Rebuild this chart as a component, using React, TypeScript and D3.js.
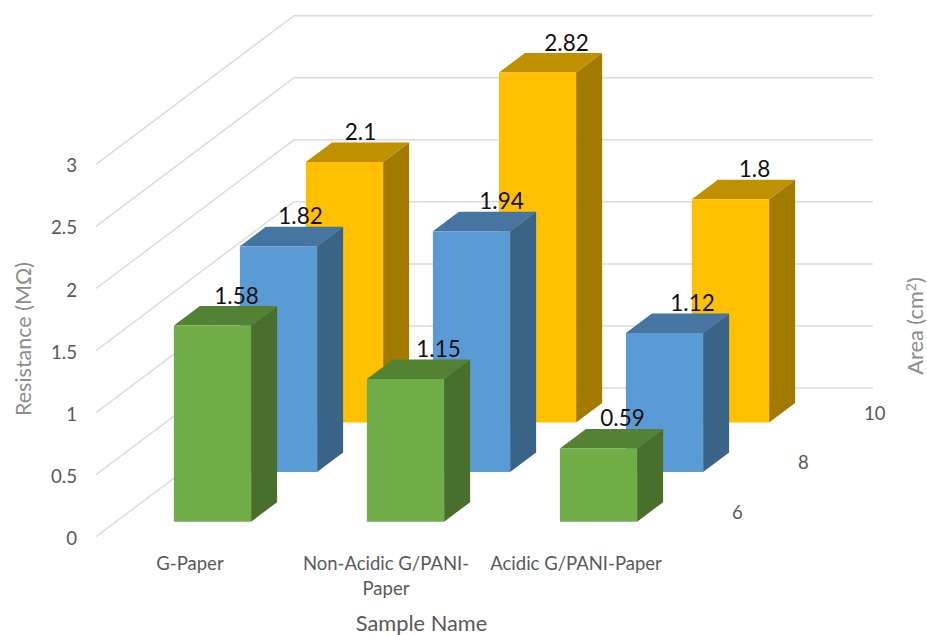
import React from "react";
import * as d3 from "d3";

// Sample names and the area series, front row first
const categories = ["G-Paper", "Non-Acidic G/PANI-Paper", "Acidic G/PANI-Paper"];
const categoryLines = [["G-Paper"], ["Non-Acidic G/PANI-", "Paper"], ["Acidic G/PANI-Paper"]];
const areaTicks = ["6", "8", "10"];

// Resistance in MΩ per sample, one list per area
const area6 = [1.58, 1.15, 0.59];
const area8 = [1.82, 1.94, 1.12];
const area10 = [2.1, 2.82, 1.8];

const resistanceTicks = [0, 0.5, 1, 1.5, 2, 2.5, 3];

// Face colours per series: front, top, side
const greenFaces = ["#70AD47", "#548235", "#486F2B"];
const blueFaces = ["#5B9BD5", "#4575A0", "#396387"];
const yellowFaces = ["#FFC000", "#BF9000", "#A37A00"];

const W = 927;
const H = 635;
const FONT = "Lato, 'Open Sans', sans-serif";

// Oblique projection: a sample band runs along x, value runs up, depth slides up and to the right
const band = d3
  .scaleBand<string>()
  .domain(categories)
  .range([96, 675])
  .paddingInner(0.6)
  .paddingOuter(0.3);
const valueRise = d3.scaleLinear().domain([0, 3]).range([0, 372.3]);
const depthX = d3.scaleLinear().domain([0, 3]).range([0, 198]);
const depthY = d3.scaleLinear().domain([0, 3]).range([0, 148.7]);
const FLOOR_Y = 536.7;
const X_START = 96;
const X_END = 675;

const px = (x: number, z: number) => x + depthX(z);
const py = (v: number, z: number) => FLOOR_Y - depthY(z) - valueRise(v);

const facePath = d3.line<[number, number]>().curve(d3.curveLinearClosed);

type Row = { values: number[]; faces: string[]; row: number };

// Back row is listed first so nearer bars paint over it
const rows: Row[] = [
  { values: area10, faces: yellowFaces, row: 2 },
  { values: area8, faces: blueFaces, row: 1 },
  { values: area6, faces: greenFaces, row: 0 },
];

const BAR_DEPTH = 0.394;

// Horizontal nudges that keep each value label clear of its neighbours, per row and sample
const labelNudge: Record<number, number[]> = {
  0: [11, 20, 11],
  1: [9, 17, 15],
  2: [3, 16, 11],
};

// Sample labels sit slightly off their band centres so the long names do not collide
const categoryNudge = [-2.5, 0.5, -2.5];

function Bar({ x, value, row, faces }: { x: number; value: number; row: number; faces: string[] }) {
  const w = band.bandwidth();
  const z0 = row + 0.5 - BAR_DEPTH / 2;
  const z1 = row + 0.5 + BAR_DEPTH / 2;
  const [front, top, side] = faces;
  const frontFace: [number, number][] = [
    [px(x, z0), py(0, z0)],
    [px(x + w, z0), py(0, z0)],
    [px(x + w, z0), py(value, z0)],
    [px(x, z0), py(value, z0)],
  ];
  const topFace: [number, number][] = [
    [px(x, z0), py(value, z0)],
    [px(x + w, z0), py(value, z0)],
    [px(x + w, z1), py(value, z1)],
    [px(x, z1), py(value, z1)],
  ];
  const sideFace: [number, number][] = [
    [px(x + w, z0), py(0, z0)],
    [px(x + w, z1), py(0, z1)],
    [px(x + w, z1), py(value, z1)],
    [px(x + w, z0), py(value, z0)],
  ];
  return (
    <g>
      <path d={facePath(sideFace) ?? ""} fill={side} />
      <path d={facePath(topFace) ?? ""} fill={top} />
      <path d={facePath(frontFace) ?? ""} fill={front} />
    </g>
  );
}

export default function App() {
  return (
    <svg
      width={W}
      height={H}
      viewBox={`0 0 ${W} ${H}`}
      style={{ position: "absolute", left: 0, top: 0, display: "block", background: "#fff" }}
      fontFamily={FONT}
    >
      {/* Gridlines: side wall then back wall */}
      {resistanceTicks.map((t) => (
        <path
          key={t}
          d={
            d3.line()([
              [px(X_START, 0), py(t, 0)],
              [px(X_START, 3), py(t, 3)],
              [px(X_END, 3), py(t, 3)],
            ]) ?? ""
          }
          fill="none"
          stroke="#DCDCDC"
          strokeWidth={1.5}
        />
      ))}

      {/* Bars */}
      {rows.map((r) =>
        r.values.map((v, i) => (
          <Bar key={`${r.row}-${i}`} x={band(categories[i]) as number} value={v} row={r.row} faces={r.faces} />
        ))
      )}

      {/* Value labels */}
      {rows.map((r) =>
        r.values.map((v, i) => {
          const x = band(categories[i]) as number;
          const zBack = r.row + 0.5 + BAR_DEPTH / 2;
          const zFront = r.row + 0.5 - BAR_DEPTH / 2;
          const centre = (px(x, zFront) + px(x + band.bandwidth(), zBack)) / 2;
          return (
            <text
              key={`label-${r.row}-${i}`}
              x={centre + labelNudge[r.row][i]}
              y={py(v, zBack) - 2.5}
              textAnchor="middle"
              fontSize={22.5}
              fill="#111"
            >
              {v}
            </text>
          );
        })
      )}

      {/* Resistance tick labels */}
      {resistanceTicks.map((t) => (
        <text key={t} x={77} y={py(t, 0) + 8} textAnchor="end" fontSize={18.7} fill="#595959">
          {t}
        </text>
      ))}

      {/* Sample labels */}
      {categoryLines.map((lines, i) => {
        const cx = (band(categories[i]) as number) + band.bandwidth() / 2 + categoryNudge[i];
        return (
          <text key={categories[i]} x={cx} y={570} textAnchor="middle" fontSize={18.5} fill="#595959">
            {lines.map((l, j) => (
              <tspan key={l} x={cx} dy={j === 0 ? 0 : 25}>
                {l}
              </tspan>
            ))}
          </text>
        );
      })}

      {/* Area tick labels along the right edge of the floor */}
      {areaTicks.map((t, i) => (
        <text
          key={t}
          x={px(X_END, i + 0.5) + 24}
          y={py(0, i + 0.5) + 7}
          textAnchor="start"
          fontSize={18.5}
          fill="#595959"
        >
          {t}
        </text>
      ))}

      {/* Axis titles */}
      <text x={421.5} y={631} textAnchor="middle" fontSize={21.8} fill="#595959">
        Sample Name
      </text>
      <text
        transform="translate(30.5,339) rotate(-90)"
        textAnchor="middle"
        fontSize={21.5}
        fill="#8C8C8C"
      >
        Resistance (MΩ)
      </text>
      <text
        transform="translate(922.5,326) rotate(-90)"
        textAnchor="middle"
        fontSize={21.8}
        fill="#8C8C8C"
      >
        Area (cm
        <tspan dy={-7} fontSize={14}>
          2
        </tspan>
        <tspan dy={7}>)</tspan>
      </text>
    </svg>
  );
}
